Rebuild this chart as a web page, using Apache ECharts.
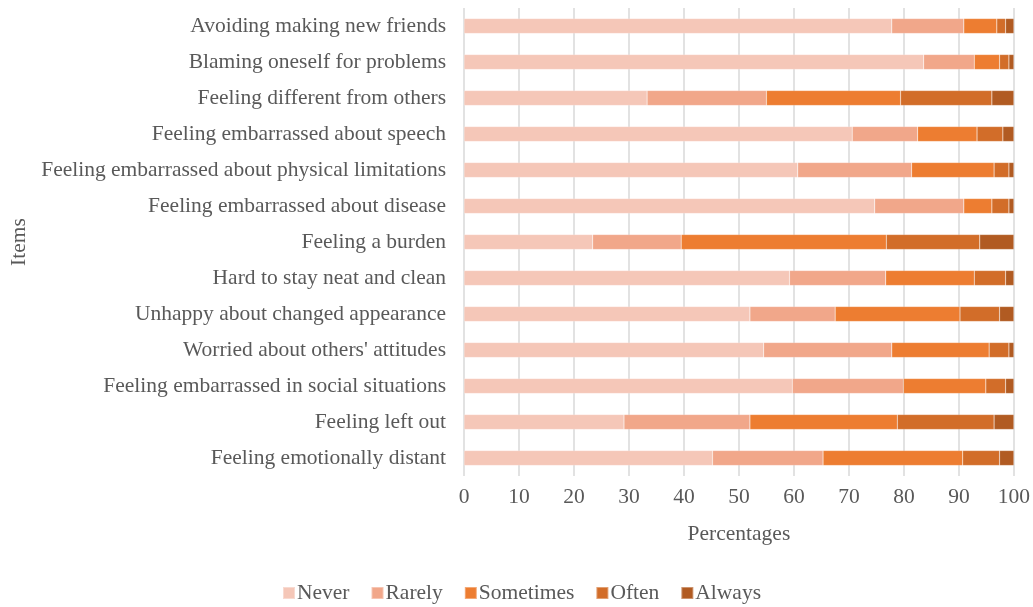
<!DOCTYPE html>
<html><head><meta charset="utf-8">
<script src="https://cdn.jsdelivr.net/npm/echarts@6/dist/echarts.min.js"></script>
<style>html,body{margin:0;padding:0;background:#fff}#c{width:1033px;height:607px}</style>
</head><body><div id="c"></div>
<script>
const categories = [
  "Avoiding making new friends",
  "Blaming oneself for problems",
  "Feeling different from others",
  "Feeling embarrassed about speech",
  "Feeling embarrassed about physical limitations",
  "Feeling embarrassed about disease",
  "Feeling a burden",
  "Hard to stay neat and clean",
  "Unhappy about changed appearance",
  "Worried about others' attitudes",
  "Feeling embarrassed in social situations",
  "Feeling left out",
  "Feeling emotionally distant"
];
const seriesNames = ["Never", "Rarely", "Sometimes", "Often", "Always"];
const never     = [77.8, 83.6, 33.3, 70.6, 60.7, 74.7, 23.4, 59.2, 52.0, 54.5, 59.7, 29.1, 45.2];
const rarely    = [13.1,  9.2, 21.7, 11.9, 20.7, 16.2, 16.1, 17.5, 15.5, 23.3, 20.2, 22.9, 20.1];
const sometimes = [ 6.0,  4.6, 24.4, 10.8, 15.0,  5.1, 37.3, 16.1, 22.7, 17.7, 15.0, 26.8, 25.4];
const often     = [ 1.6,  1.7, 16.6,  4.7,  2.7,  3.1, 17.0,  5.7,  7.2,  3.6,  3.6, 17.6,  6.7];
const always    = [ 1.5,  0.9,  4.0,  2.0,  0.9,  0.9,  6.2,  1.5,  2.6,  0.9,  1.5,  3.6,  2.6];
const xTicks = [0, 10, 20, 30, 40, 50, 60, 70, 80, 90, 100];

const values = [never, rarely, sometimes, often, always];
const colors = ["#F5C7B8", "#F1A78A", "#ED7D31", "#D26D29", "#B15B22"];
const font = "Liberation Serif";
const fs = 21.5;
const textColor = "#595959";

const chart = echarts.init(document.getElementById('c'));
chart.setOption({
  animation: false,
  textStyle: { fontFamily: font },
  grid: { left: 463, right: 14, top: 8, bottom: 131, containLabel: false },
  legend: {
    top: 577, left: 277, itemWidth: 12, itemHeight: 12, itemGap: 21,
    icon: 'rect',
    textStyle: { fontFamily: font, fontSize: fs, color: textColor, padding: [0, 0, 0, -3] },
    data: seriesNames
  },
  xAxis: {
    type: 'value', min: xTicks[0], max: xTicks[xTicks.length - 1], interval: 10,
    name: 'Percentages', nameLocation: 'middle', nameGap: 47,
    nameTextStyle: { fontFamily: font, fontSize: fs, color: textColor },
    axisLine: { show: false }, axisTick: { show: false },
    axisLabel: { fontFamily: font, fontSize: fs, color: textColor, margin: 10 },
    splitLine: { show: true, lineStyle: { color: '#D9D9D9', width: 1.5 } }
  },
  yAxis: {
    type: 'category', data: categories, inverse: true,
    name: 'Items', nameLocation: 'middle', nameGap: 434, nameRotate: 90,
    nameTextStyle: { fontFamily: font, fontSize: fs, color: textColor },
    axisLine: { show: false }, axisTick: { show: false },
    axisLabel: { fontFamily: font, fontSize: fs, color: textColor, margin: 18 }
  },
  series: seriesNames.map((n, i) => ({
    name: n, type: 'bar', stack: 'total', data: values[i], barWidth: 15,
    itemStyle: { color: colors[i], borderColor: 'rgba(255,255,255,0.35)', borderWidth: 0.5 }
  }))
});
</script></body></html>
